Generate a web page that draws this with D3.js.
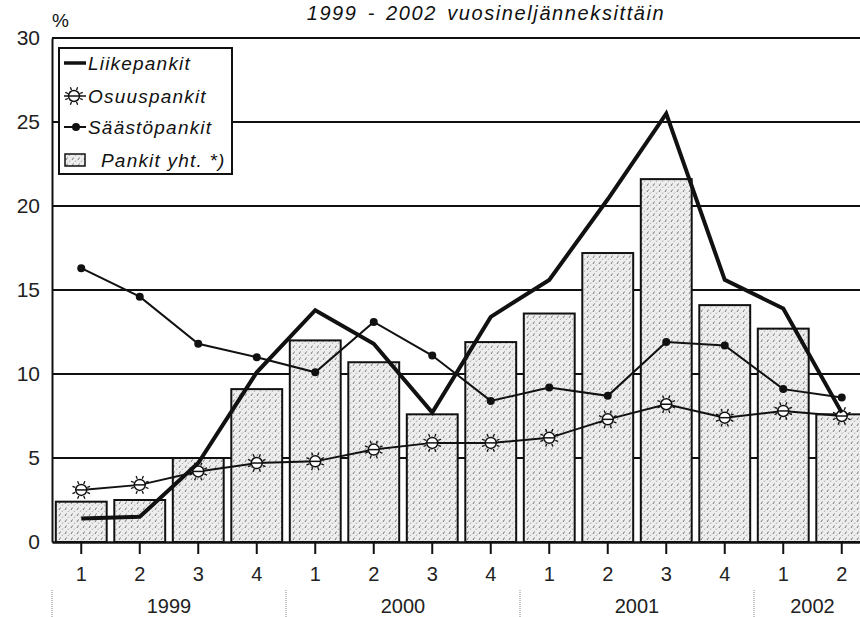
<!DOCTYPE html>
<html>
<head>
<meta charset="utf-8">
<script src="https://cdn.jsdelivr.net/npm/d3@7"></script>
<style>
  body { margin: 0; background: #fff; }
  svg { display: block; font-family: "Liberation Sans", Arial, sans-serif; }
</style>
</head>
<body>
<div id="chart"></div>
<script>
// Data
const quarters = ["1", "2", "3", "4", "1", "2", "3", "4", "1", "2", "3", "4", "1", "2"];
const years = [
  {label: "1999", from: 0, to: 3},
  {label: "2000", from: 4, to: 7},
  {label: "2001", from: 8, to: 11},
  {label: "2002", from: 12, to: 13}
];
const pankitYht = [2.4, 2.5, 5.0, 9.1, 12.0, 10.7, 7.6, 11.9, 13.6, 17.2, 21.6, 14.1, 12.7, 7.6];
const liikepankit = [1.4, 1.5, 4.7, 10.1, 13.8, 11.8, 7.7, 13.4, 15.6, 20.4, 25.5, 15.6, 13.9, 7.7];
const osuuspankit = [3.1, 3.4, 4.2, 4.7, 4.8, 5.5, 5.9, 5.9, 6.2, 7.3, 8.2, 7.4, 7.8, 7.5];
const saastopankit = [16.3, 14.6, 11.8, 11.0, 10.1, 13.1, 11.1, 8.4, 9.2, 8.7, 11.9, 11.7, 9.1, 8.6];
const yTicks = [0, 5, 10, 15, 20, 25, 30];

const width = 860, height = 617;
const margin = {top: 38, right: -11, bottom: 75, left: 52};
const innerW = width - margin.left - margin.right;
const innerH = height - margin.top - margin.bottom;

const svg = d3.select("#chart").append("svg")
  .attr("width", width)
  .attr("height", height);

// dotted fill of the bars
const defs = svg.append("defs");
const pat = defs.append("pattern")
  .attr("id", "dots")
  .attr("patternUnits", "userSpaceOnUse")
  .attr("width", 6).attr("height", 6);
pat.append("rect").attr("width", 6).attr("height", 6).attr("fill", "#ededed");
pat.append("path").attr("d", "M1,4 L2.5,1.5").attr("stroke", "#777").attr("stroke-width", 1);
pat.append("path").attr("d", "M4,6 L5,4.5").attr("stroke", "#999").attr("stroke-width", 0.8);

const g = svg.append("g")
  .attr("transform", "translate(" + margin.left + "," + margin.top + ")");

const idx = d3.range(quarters.length);
const x = d3.scaleBand().domain(idx).range([0, innerW]).paddingInner(0.13).paddingOuter(0.065);
const y = d3.scaleLinear().domain([0, 30]).range([innerH, 0]);
const cx = i => x(i) + x.bandwidth() / 2;

// gridlines
g.append("g").selectAll("line")
  .data(yTicks.filter(d => d > 0))
  .join("line")
  .attr("x1", 0).attr("x2", innerW)
  .attr("y1", d => y(d)).attr("y2", d => y(d))
  .attr("stroke", "#111").attr("stroke-width", 2);

// bars
g.append("g").selectAll("rect")
  .data(pankitYht)
  .join("rect")
  .attr("x", (d, i) => x(i))
  .attr("y", d => y(d))
  .attr("width", x.bandwidth())
  .attr("height", d => y(0) - y(d))
  .attr("fill", "url(#dots)")
  .attr("stroke", "#111")
  .attr("stroke-width", 2);

// axes
const yAxis = g.append("g").call(d3.axisLeft(y).tickValues(yTicks).tickSize(0).tickPadding(12));
yAxis.select(".domain").attr("stroke", "#111").attr("stroke-width", 2);
yAxis.selectAll("text").attr("font-size", 21).attr("fill", "#222");

const xAxis = g.append("g").attr("transform", "translate(0," + innerH + ")")
  .call(d3.axisBottom(x).tickFormat(i => quarters[i]).tickSize(12).tickSizeOuter(0).tickPadding(13));
xAxis.select(".domain").attr("stroke", "#111").attr("stroke-width", 2.5);
xAxis.selectAll(".tick line").attr("stroke", "#111").attr("stroke-width", 2);
xAxis.selectAll("text").attr("font-size", 20).attr("fill", "#222");

// year labels and separators
const yearG = g.append("g").attr("transform", "translate(0," + innerH + ")");
yearG.selectAll("text")
  .data(years)
  .join("text")
  .attr("x", d => (cx(d.from) + cx(d.to)) / 2)
  .attr("y", 71)
  .attr("text-anchor", "middle")
  .attr("font-size", 20)
  .attr("fill", "#222")
  .text(d => d.label);
yearG.selectAll("line")
  .data(years)
  .join("line")
  .attr("x1", d => d.from === 0 ? 0 : (cx(d.from - 1) + cx(d.from)) / 2)
  .attr("x2", d => d.from === 0 ? 0 : (cx(d.from - 1) + cx(d.from)) / 2)
  .attr("y1", 48).attr("y2", 78)
  .attr("stroke", "#888").attr("stroke-width", 1)
  .attr("stroke-dasharray", "1,1");

// lines
const line = d3.line().x((d, i) => cx(i)).y(d => y(d));

g.append("path").datum(osuuspankit)
  .attr("d", line).attr("fill", "none")
  .attr("stroke", "#111").attr("stroke-width", 2);

function sun(sel) {
  sel.append("circle").attr("r", 5.5).attr("fill", "#fff").attr("stroke", "#111").attr("stroke-width", 1.5);
  sel.append("line").attr("x1", -5.5).attr("x2", 5.5).attr("stroke", "#111").attr("stroke-width", 1.5);
  d3.range(8).forEach(k => {
    const a = k * Math.PI / 4 + Math.PI / 8;
    sel.append("line")
      .attr("x1", Math.cos(a) * 6.5).attr("y1", Math.sin(a) * 6.5)
      .attr("x2", Math.cos(a) * 9.5).attr("y2", Math.sin(a) * 9.5)
      .attr("stroke", "#111").attr("stroke-width", 1.3);
  });
}

g.append("g").selectAll("g")
  .data(osuuspankit)
  .join("g")
  .attr("transform", (d, i) => "translate(" + cx(i) + "," + y(d) + ")")
  .each(function() { sun(d3.select(this)); });

g.append("path").datum(saastopankit)
  .attr("d", line).attr("fill", "none")
  .attr("stroke", "#111").attr("stroke-width", 2);
g.append("g").selectAll("circle")
  .data(saastopankit)
  .join("circle")
  .attr("cx", (d, i) => cx(i)).attr("cy", d => y(d))
  .attr("r", 4).attr("fill", "#111");

g.append("path").datum(liikepankit)
  .attr("d", line).attr("fill", "none")
  .attr("stroke", "#111").attr("stroke-width", 4)
  .attr("stroke-linejoin", "miter");

// legend
const leg = svg.append("g").attr("transform", "translate(59,48)");
leg.append("rect").attr("width", 173).attr("height", 126)
  .attr("fill", "#fff").attr("stroke", "#111").attr("stroke-width", 2);
const legText = (ty, tx, t) => leg.append("text")
  .attr("x", tx).attr("y", ty + 7)
  .attr("font-size", 19).attr("font-style", "italic").attr("fill", "#111")
  .attr("letter-spacing", 1.2)
  .text(t);
leg.append("line").attr("x1", 5).attr("x2", 27).attr("y1", 15).attr("y2", 15)
  .attr("stroke", "#111").attr("stroke-width", 3.5);
legText(15, 29, "Liikepankit");
const ls = leg.append("g").attr("transform", "translate(15,48)");
ls.append("line").attr("x1", -10).attr("x2", 12).attr("stroke", "#111").attr("stroke-width", 1.5);
sun(ls);
legText(48, 29, "Osuuspankit");
leg.append("line").attr("x1", 5).attr("x2", 27).attr("y1", 79).attr("y2", 79)
  .attr("stroke", "#111").attr("stroke-width", 2);
leg.append("circle").attr("cx", 17).attr("cy", 79).attr("r", 4).attr("fill", "#111");
legText(79, 29, "Säästöpankit");
leg.append("rect").attr("x", 6).attr("y", 106).attr("width", 20).attr("height", 12)
  .attr("fill", "url(#dots)").attr("stroke", "#111").attr("stroke-width", 1.5);
legText(112, 42, "Pankit yht. *)");

// title and unit
svg.append("text")
  .attr("x", 486).attr("y", 20)
  .attr("text-anchor", "middle")
  .attr("font-size", 20).attr("font-style", "italic").attr("fill", "#111")
  .attr("letter-spacing", 1.6)
  .attr("word-spacing", 3)
  .text("1999 - 2002  vuosineljänneksittäin");
svg.append("text")
  .attr("x", 52).attr("y", 27)
  .attr("font-size", 19).attr("fill", "#111")
  .text("%");
</script>
</body>
</html>
